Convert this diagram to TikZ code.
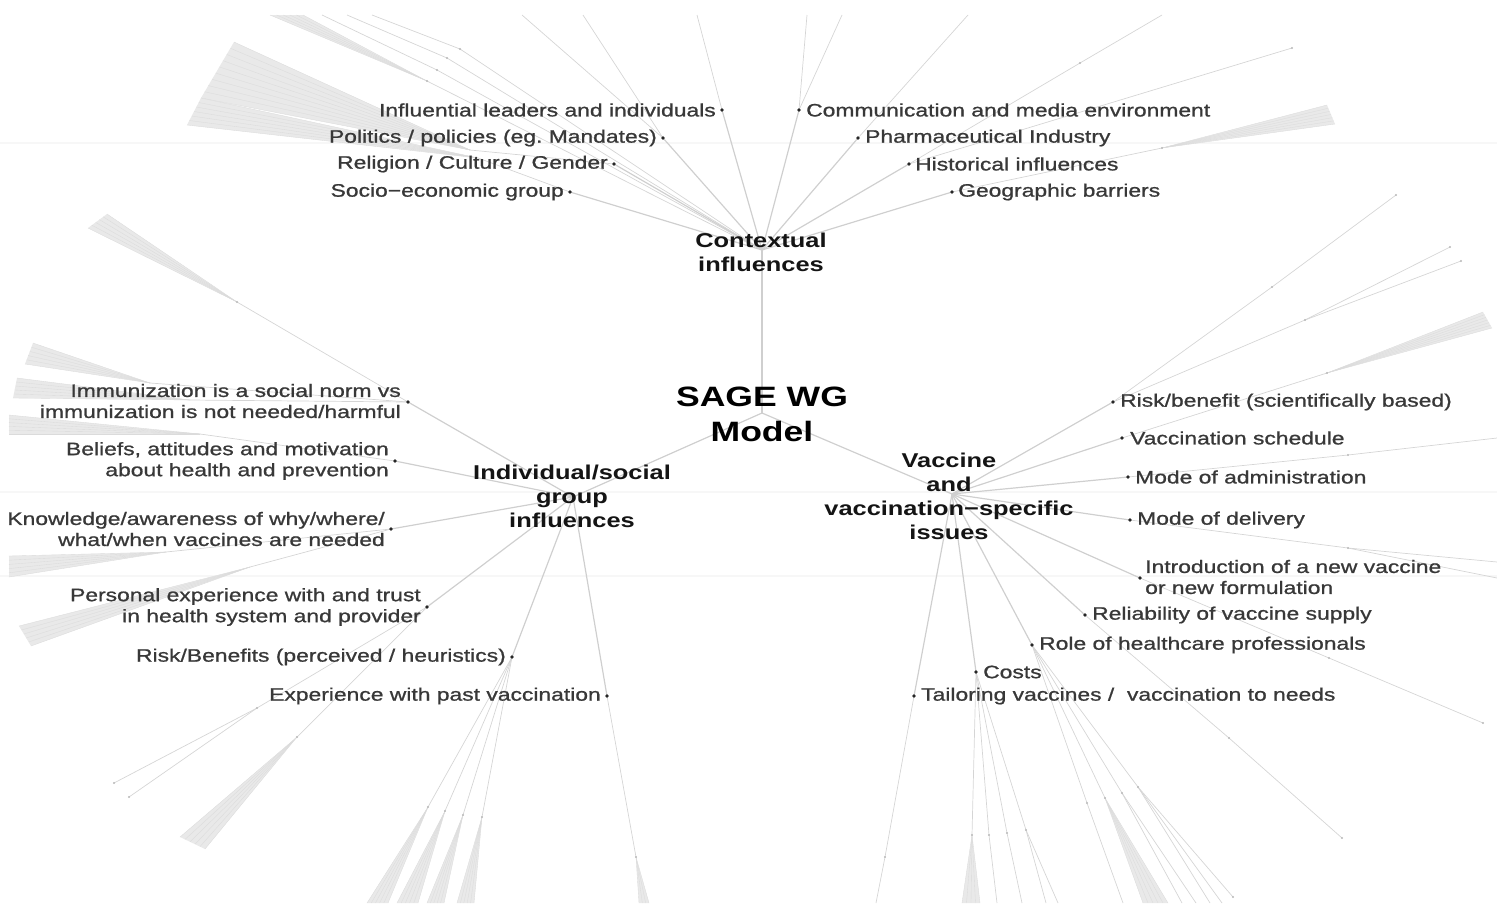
\documentclass[tikz,border=0pt]{standalone}
\usepackage{fontspec}
\usetikzlibrary{calc}
\newfontfamily\lbl[FakeStretch=1.27,FakeBold=1.0]{Liberation Sans}
\newfontfamily\hubf[FakeStretch=1.27]{Liberation Sans}
\tikzset{
  edge/.style={draw=gray!38, line width=1.2pt},
  twig/.style={draw=gray!33, line width=0.7pt},
  fanline/.style={draw=gray!28, line width=0.35pt},
  fanfill/.style={fill=gray!17},
  band/.style={draw=gray!6, line width=1.5pt},
  leafdot/.style={circle, fill=black!85, inner sep=0pt, minimum size=3.6pt},
  tickmark/.style={circle, fill=gray!55, inner sep=0pt, minimum size=2.4pt},
  lab/.style={font=\lbl\fontsize{18}{21}\selectfont, text=black!78, inner sep=0pt},
  labL/.style={lab, anchor=east, align=right},
  labR/.style={lab, anchor=west, align=left},
  hubtext/.style={font=\hubf\bfseries\fontsize{20}{24}\selectfont, text=black!92, align=center, inner sep=0pt},
  centertext/.style={font=\hubf\bfseries\fontsize{28}{35}\selectfont, text=black, align=center, inner sep=0pt},
}
\newcommand{\fanwedge}[4]{%
  \fill[fanfill] (#1) -- (#2) -- (#3) -- cycle;
  \foreach \k in {0,...,#4}{\pgfmathsetmacro\fanfr{\k/#4}\draw[fanline] (#1) -- ($(#2)!\fanfr!(#3)$);}%
}
\begin{document}
\begin{tikzpicture}[x=1pt,y=-1pt]
\useasboundingbox (0,0) rectangle (1497,903);
% faint horizontal bands
\coordinate (b1l) at (0,143); \coordinate (b1r) at (1497,143);
\coordinate (b2l) at (0,492); \coordinate (b2r) at (1497,492);
\coordinate (b3l) at (0,576); \coordinate (b3r) at (1497,576);
\draw[band] (b1l) -- (b1r); \draw[band] (b2l) -- (b2r); \draw[band] (b3l) -- (b3r);

% hubs
\coordinate (C) at (762,413);
\coordinate (H1) at (762,250);
\coordinate (H2) at (573,497);
\coordinate (H3) at (952,494);

% leaves
\coordinate (inf) at (722,110); \coordinate (pol) at (663,138);
\coordinate (rel) at (614,164); \coordinate (soc) at (570,192);
\coordinate (com) at (799,110); \coordinate (pha) at (858,138);
\coordinate (his) at (909,164); \coordinate (geo) at (952,192);
\coordinate (imm) at (408,402); \coordinate (bel) at (395,461);
\coordinate (kno) at (391,529); \coordinate (per) at (427,607);
\coordinate (rbp) at (512,657); \coordinate (exq) at (607,696);
\coordinate (rbs) at (1113,402); \coordinate (sch) at (1122,438);
\coordinate (adm) at (1128,477); \coordinate (del) at (1130,520);
\coordinate (intr) at (1140,578); \coordinate (rsup) at (1085,615);
\coordinate (hcp) at (1032,645); \coordinate (cst) at (976,672);
\coordinate (tlr) at (914,696);

% ---------- outer ticks and ends: contextual ----------
\coordinate (tA1) at (470,150); \coordinate (fA1a) at (234,42); \coordinate (fA1b) at (201,98);
\coordinate (tA2) at (478,158); \coordinate (fA2a) at (201,98); \coordinate (fA2b) at (187,125);
\coordinate (ta) at (427,81); \coordinate (fBa) at (270,15); \coordinate (fBb) at (303,15);
\coordinate (tb) at (437,70); \coordinate (eb) at (322,15);
\coordinate (tc) at (447,58); \coordinate (ec) at (347,15);
\coordinate (td) at (460,49); \coordinate (ed) at (372,15);
\coordinate (ep1) at (522,15); \coordinate (ep2) at (583,15);
\coordinate (ei) at (697,15);
\coordinate (ec1) at (807,15); \coordinate (ec2) at (842,15);
\coordinate (eph) at (968,15);
\coordinate (th) at (1080,63); \coordinate (eh) at (1162,15);
\coordinate (eh2) at (1292,48);
\coordinate (tg) at (1162,148); \coordinate (fGa) at (1327,105); \coordinate (fGb) at (1335,124);

% ---------- vaccine ----------
\coordinate (tr1) at (1272,287); \coordinate (er1) at (1396,195);
\coordinate (tr2) at (1305,320); \coordinate (er2) at (1450,247); \coordinate (er3) at (1461,261);
\coordinate (ts) at (1327,373); \coordinate (fSa) at (1483,312); \coordinate (fSb) at (1492,328);
\coordinate (tad) at (1348,455); \coordinate (ead) at (1497,438);
\coordinate (tde) at (1348,548); \coordinate (ede1) at (1497,562); \coordinate (ede2) at (1497,578);
\coordinate (tin) at (1329,658); \coordinate (ein) at (1483,723);
\coordinate (tsu) at (1229,738); \coordinate (esu) at (1342,838);
\coordinate (r1) at (1087,803); \coordinate (r2) at (1105,798);
\coordinate (r3) at (1122,793); \coordinate (r4) at (1138,787);
\coordinate (er1a) at (1123,903);
\coordinate (fR2a) at (1143,903); \coordinate (fR2b) at (1168,903);
\coordinate (er3a) at (1182,903); \coordinate (er3b) at (1196,903);
\coordinate (er4a) at (1210,903); \coordinate (er4b) at (1222,903); \coordinate (er4c) at (1233,897);
\coordinate (c1) at (972,835); \coordinate (c2) at (989,835);
\coordinate (c3) at (1007,833); \coordinate (c4) at (1026,830);
\coordinate (fC1a) at (962,903); \coordinate (fC1b) at (980,903);
\coordinate (ec2a) at (997,903); \coordinate (ec3a) at (1022,903);
\coordinate (ec4a) at (1046,903); \coordinate (ec4b) at (1058,903);
\coordinate (tt) at (885,857); \coordinate (ett) at (876,903);

% ---------- individual ----------
\coordinate (ti) at (237,302); \coordinate (fIa) at (88,228); \coordinate (fIb) at (107,214);
\coordinate (ti2) at (150,383); \coordinate (fI2a) at (33,343); \coordinate (fI2b) at (25,364);
\coordinate (ti3) at (190,400); \coordinate (fI3a) at (17,378); \coordinate (fI3b) at (13,398);
\coordinate (tb3) at (200,434); \coordinate (fBea) at (9,415); \coordinate (fBeb) at (9,434);
\coordinate (tk1) at (166,552); \coordinate (fK1a) at (9,556); \coordinate (fK1b) at (9,577);
\coordinate (tk2) at (250,567); \coordinate (fK2a) at (19,626); \coordinate (fK2b) at (31,646);
\coordinate (tp1) at (257,708); \coordinate (ep1a) at (114,783); \coordinate (ep1b) at (129,797);
\coordinate (tp2) at (297,737); \coordinate (fPa) at (180,837); \coordinate (fPb) at (205,849);
\coordinate (p1) at (428,807); \coordinate (p2) at (445,811);
\coordinate (p3) at (463,815); \coordinate (p4) at (482,817);
\coordinate (fp1a) at (367,903); \coordinate (fp1b) at (388,903);
\coordinate (fp2a) at (397,903); \coordinate (fp2b) at (418,903);
\coordinate (fp3a) at (427,903); \coordinate (fp3b) at (444,903);
\coordinate (fp4a) at (457,903); \coordinate (fp4b) at (474,903);
\coordinate (tx) at (636,857); \coordinate (fXa) at (639,903); \coordinate (fXb) at (649,903);

% ---------- fans ----------
\fanwedge{tA1}{fA1a}{fA1b}{9}
\fanwedge{tA2}{fA2a}{fA2b}{6}
\fanwedge{ta}{fBa}{fBb}{5}
\fanwedge{tg}{fGa}{fGb}{6}
\fanwedge{ts}{fSa}{fSb}{6}
\fanwedge{r2}{fR2a}{fR2b}{5}
\fanwedge{c1}{fC1a}{fC1b}{4}
\fanwedge{ti}{fIa}{fIb}{5}
\fanwedge{ti2}{fI2a}{fI2b}{5}
\fanwedge{ti3}{fI3a}{fI3b}{5}
\fanwedge{tb3}{fBea}{fBeb}{5}
\fanwedge{tk1}{fK1a}{fK1b}{5}
\fanwedge{tk2}{fK2a}{fK2b}{5}
\fanwedge{tp2}{fPa}{fPb}{5}
\fanwedge{p1}{fp1a}{fp1b}{5}
\fanwedge{p2}{fp2a}{fp2b}{5}
\fanwedge{p3}{fp3a}{fp3b}{5}
\fanwedge{p4}{fp4a}{fp4b}{5}
\fanwedge{tx}{fXa}{fXb}{3}

% ---------- twigs ----------
\draw[twig] (rel) -- (tA1); \draw[twig] (soc) -- (tA2);
\foreach \t in {ta,tb,tc,td} \draw[twig] (H1) -- (\t);
\draw[twig] (tb) -- (eb); \draw[twig] (tc) -- (ec); \draw[twig] (td) -- (ed);
\draw[twig] (pol) -- (ep1); \draw[twig] (pol) -- (ep2);
\draw[twig] (inf) -- (ei);
\draw[twig] (com) -- (ec1); \draw[twig] (com) -- (ec2);
\draw[twig] (pha) -- (eph);
\draw[twig] (his) -- (th) -- (eh); \draw[twig] (his) -- (eh2);
\draw[twig] (geo) -- (tg);

\draw[twig] (rbs) -- (tr1) -- (er1);
\draw[twig] (rbs) -- (tr2); \draw[twig] (tr2) -- (er2); \draw[twig] (tr2) -- (er3);
\draw[twig] (sch) -- (ts);
\draw[twig] (adm) -- (tad) -- (ead);
\draw[twig] (del) -- (tde); \draw[twig] (tde) -- (ede1); \draw[twig] (tde) -- (ede2);
\draw[twig] (intr) -- (tin) -- (ein);
\draw[twig] (rsup) -- (tsu) -- (esu);
\foreach \t in {r1,r2,r3,r4} \draw[twig] (hcp) -- (\t);
\draw[twig] (r1) -- (er1a);
\draw[twig] (r3) -- (er3a); \draw[twig] (r3) -- (er3b);
\draw[twig] (r4) -- (er4a); \draw[twig] (r4) -- (er4b); \draw[twig] (r4) -- (er4c);
\foreach \t in {c1,c2,c3,c4} \draw[twig] (cst) -- (\t);
\draw[twig] (c2) -- (ec2a); \draw[twig] (c3) -- (ec3a);
\draw[twig] (c4) -- (ec4a); \draw[twig] (c4) -- (ec4b);
\draw[twig] (tlr) -- (tt) -- (ett);

\draw[twig] (imm) -- (ti); \draw[twig] (imm) -- (ti2); \draw[twig] (imm) -- (ti3);
\draw[twig] (bel) -- (tb3);
\draw[twig] (kno) -- (tk1); \draw[twig] (kno) -- (tk2);
\draw[twig] (per) -- (tp1); \draw[twig] (tp1) -- (ep1a); \draw[twig] (tp1) -- (ep1b);
\draw[twig] (per) -- (tp2);
\foreach \t in {p1,p2,p3,p4} \draw[twig] (rbp) -- (\t);
\draw[twig] (exq) -- (tx);

% ---------- main edges ----------
\draw[edge] (C) -- (H1); \draw[edge] (C) -- (H2); \draw[edge] (C) -- (H3);
\foreach \n in {inf,pol,rel,soc,com,pha,his,geo} \draw[edge] (H1) -- (\n);
\foreach \n in {imm,bel,kno,per,rbp,exq} \draw[edge] (H2) -- (\n);
\foreach \n in {rbs,sch,adm,del,intr,rsup,hcp,cst,tlr} \draw[edge] (H3) -- (\n);

% ---------- tick marks ----------
\foreach \t in {ta,tb,tc,td,th,eh2,tg,tr1,er1,tr2,er2,er3,ts,tad,tde,tin,ein,tsu,esu,r1,r2,r3,r4,er4c,c1,c2,c3,c4,tt,ti,tp1,ep1a,ep1b,tp2,p1,p2,p3,p4,tx}
  \node[tickmark] at (\t) {};

% ---------- leaf dots ----------
\foreach \n in {inf,pol,rel,soc,com,pha,his,geo,imm,bel,kno,per,rbp,exq,rbs,sch,adm,del,intr,rsup,hcp,cst,tlr}
  \node[leafdot] (\n-dot) at (\n) {};

% ---------- labels ----------
\node[labL] (l-inf) at (716,110) {Influential leaders and individuals};
\node[labL] (l-pol) at (657,138) {Politics / policies (eg.\ Mandates)};
\node[labL] (l-rel) at (608,164) {Religion / Culture / Gender};
\node[labL] (l-soc) at (564,192) {Socio−economic group};
\node[labR] (l-com) at (806,110) {Communication and media environment};
\node[labR] (l-pha) at (865,138) {Pharmaceutical Industry};
\node[labR] (l-his) at (915,164) {Historical influences};
\node[labR] (l-geo) at (958,192) {Geographic barriers};

\node[labL] (l-imm) at (401,401) {Immunization is a social norm vs\\immunization is not needed/harmful};
\node[labL] (l-bel) at (389,461) {Beliefs, attitudes and motivation\\about health and prevention};
\node[labL] (l-kno) at (385,529) {Knowledge/awareness of why/where/\\what/when vaccines are needed};
\node[labL] (l-per) at (421,607) {Personal experience with and trust\\in health system and provider};
\node[labL] (l-rbp) at (506,657) {Risk/Benefits (perceived / heuristics)};
\node[labL] (l-exq) at (601,696) {Experience with past vaccination};

\node[labR] (l-rbs) at (1120,402) {Risk/benefit (scientifically based)};
\node[labR] (l-sch) at (1130,438) {Vaccination schedule};
\node[labR] (l-adm) at (1135,477) {Mode of administration};
\node[labR] (l-del) at (1137,520) {Mode of delivery};
\node[labR] (l-intr) at (1145,577) {Introduction of a new vaccine\\or new formulation};
\node[labR] (l-rsup) at (1092,615) {Reliability of vaccine supply};
\node[labR] (l-hcp) at (1039,645) {Role of healthcare professionals};
\node[labR] (l-cst) at (983,672) {Costs};
\node[labR] (l-tlr) at (921,696) {Tailoring vaccines /~ vaccination to needs};

% ---------- hub texts ----------
\node[hubtext] (ctx) at (761,252) {Contextual\\influences};
\node[hubtext] (ind) at (572,496) {Individual/social\\group\\influences};
\node[hubtext] (vac) at (949,496) {Vaccine\\and\\vaccination−specific\\issues};
\node[centertext] (sage) at (762,414) {SAGE WG\\Model};
\end{tikzpicture}
\end{document}
